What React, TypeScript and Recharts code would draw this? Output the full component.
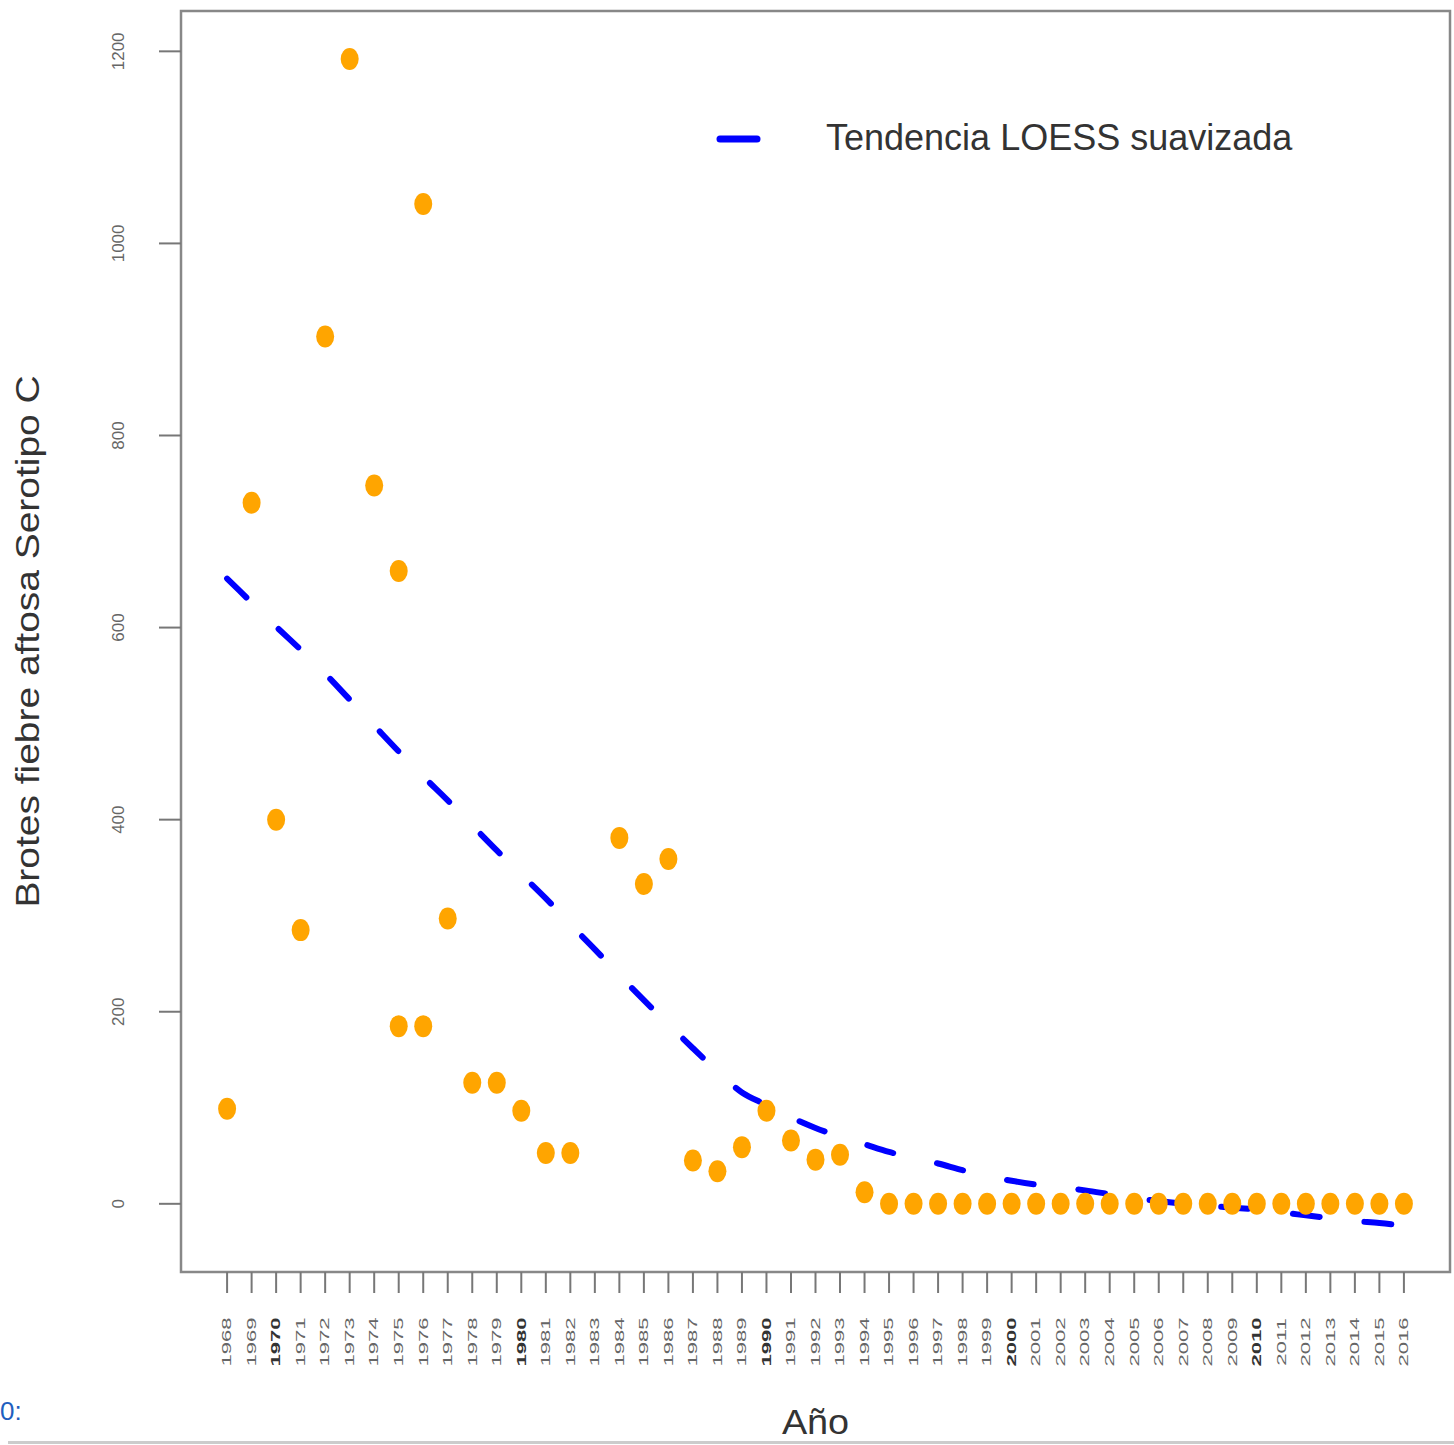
import React from 'react';
import {
  ComposedChart,
  Line,
  Scatter,
  XAxis,
  YAxis,
  ReferenceArea,
} from 'recharts';

// yearly outbreaks, serotype C
const years = [
  1968, 1969, 1970, 1971, 1972, 1973, 1974, 1975, 1976, 1977, 1978, 1979, 1980,
  1981, 1982, 1983, 1984, 1985, 1986, 1987, 1988, 1989, 1990, 1991, 1992, 1993,
  1994, 1995, 1996, 1997, 1998, 1999, 2000, 2001, 2002, 2003, 2004, 2005, 2006,
  2007, 2008, 2009, 2010, 2011, 2012, 2013, 2014, 2015, 2016,
];

const pointYears = [
  1968, 1969, 1970, 1971, 1972, 1973, 1974, 1975, 1975, 1976, 1976, 1977, 1978,
  1979, 1980, 1981, 1982, 1984, 1985, 1986, 1987, 1988, 1989, 1990, 1991, 1992,
  1993, 1994, 1995, 1996, 1997, 1998, 1999, 2000, 2001, 2002, 2003, 2004, 2005,
  2006, 2007, 2008, 2009, 2010, 2011, 2012, 2013, 2014, 2015, 2016,
];
const brotes = [
  99, 730, 400, 285, 903, 1192, 748, 659, 185, 1041, 185, 297, 126,
  126, 97, 53, 53, 381, 333, 359, 45, 34, 59, 97, 66, 46,
  51, 12, 0, 0, 0, 0, 0, 0, 0, 0, 0, 0, 0,
  0, 0, 0, 0, 0, 0, 0, 0, 0, 0, 0,
];

// smoothed LOESS trend
const loess = [
  651, 626, 601, 577, 552, 525, 498, 471, 445, 420, 394, 368, 343,
  318, 291, 265, 238, 212, 187, 162, 138, 116, 103, 90, 79, 70,
  62, 54, 48, 42, 35, 29, 24, 20, 17, 14, 10, 6, 3,
  0, -2, -4, -6, -9, -12, -15, -18, -20, -23,
];

const yTicks = [0, 200, 400, 600, 800, 1000, 1200];
const xDomain = [1966.12, 2017.88];
const yDomain = [-71, 1242];

const trendData = years.map((year, i) => ({ year, loess: loess[i] }));
const pointData = pointYears.map((year, i) => ({ year, brotes: brotes[i] }));

const FONT = '"Liberation Sans", Arial, sans-serif';

const XTick = (props: any) => {
  const { x, y, payload } = props;
  const strong = payload.value % 10 === 0;
  return (
    <text
      transform={`translate(${x},${y + 47}) rotate(-90) scale(1.7,1)`}
      textAnchor="middle"
      dominantBaseline="central"
      fontSize={13}
      fontFamily={FONT}
      fontWeight={strong ? 'bold' : 'normal'}
      fill={strong ? '#333' : '#666'}
    >
      {payload.value}
    </text>
  );
};

const YTick = (props: any) => {
  const { x, y, payload } = props;
  return (
    <text
      transform={`translate(${x - 39},${y}) rotate(-90)`}
      textAnchor="middle"
      dominantBaseline="central"
      fontSize={17}
      fontFamily={FONT}
      fill="#666"
    >
      {payload.value}
    </text>
  );
};

const Dot = (props: any) => (
  <ellipse cx={props.cx} cy={props.cy} rx={9} ry={11} fill="#FFA500" />
);

const LegendBox = () => (
  <div style={{ position: 'absolute', left: 700, top: 110, width: 640, height: 60, fontFamily: FONT }}>
    <svg width={60} height={20} style={{ position: 'absolute', left: 12, top: 19 }}>
      <line x1={8} y1={10} x2={45} y2={10} stroke="#0000FF" strokeWidth={7} strokeLinecap="round" />
    </svg>
    <span
      style={{
        position: 'absolute',
        left: 126,
        top: 8,
        fontSize: 36,
        lineHeight: '40px',
        color: '#333',
        whiteSpace: 'nowrap',
      }}
    >
      Tendencia LOESS suavizada
    </span>
  </div>
);

export default function App() {
  return (
    <div style={{ position: 'absolute', left: 0, top: 0, width: 1454, height: 1445, background: '#fff', overflow: 'hidden' }}>
      <ComposedChart
        width={1454}
        height={1445}
        data={trendData}
        margin={{ top: 11, right: 4, bottom: 0, left: 0 }}
      >
        <XAxis
          dataKey="year"
          type="number"
          domain={xDomain}
          ticks={years}
          interval={0}
          height={173}
          tickSize={21}
          axisLine={false}
          tickLine={{ stroke: '#777', strokeWidth: 2 }}
          tick={<XTick />}
          label={{
            content: (p: any) => {
              const vb = p.viewBox;
              return (
                <text
                  transform={`translate(${vb.x + vb.width / 2},${vb.y + 162}) scale(1.08,1)`}
                  textAnchor="middle"
                  fontSize={35}
                  fontFamily={FONT}
                  fill="#333"
                >
                  Año
                </text>
              );
            },
          }}
        />
        <YAxis
          type="number"
          domain={yDomain}
          ticks={yTicks}
          width={181}
          tickSize={22}
          axisLine={false}
          tickLine={{ stroke: '#777', strokeWidth: 2 }}
          tick={<YTick />}
          label={{
            content: (p: any) => {
              const vb = p.viewBox;
              return (
                <text
                  transform={`translate(${vb.x + 28},${vb.y + vb.height / 2}) rotate(-90) scale(1.18,1)`}
                  textAnchor="middle"
                  dominantBaseline="central"
                  fontSize={33}
                  fontFamily={FONT}
                  fill="#333"
                >
                  Brotes fiebre aftosa Serotipo C
                </text>
              );
            },
          }}
        />
        <ReferenceArea
          x1={xDomain[0]}
          x2={xDomain[1]}
          y1={yDomain[0]}
          y2={yDomain[1]}
          fill="#fff"
          fillOpacity={0}
          stroke="#888"
          strokeWidth={2.5}
          ifOverflow="visible"
        />
        <Line
          dataKey="loess"
          type="monotone"
          stroke="#0000FF"
          strokeWidth={6}
          strokeDasharray="27 45"
          strokeLinecap="round"
          dot={false}
          activeDot={false}
          isAnimationActive={false}
        />
        <Scatter
          data={pointData}
          dataKey="brotes"
          shape={<Dot />}
          isAnimationActive={false}
        />
      </ComposedChart>
      <LegendBox />
      <div style={{ position: 'absolute', left: 8, right: 0, top: 1441, height: 3, background: '#ccc' }} />
      <div
        style={{
          position: 'absolute',
          left: 0,
          top: 1396,
          fontSize: 26,
          fontFamily: FONT,
          color: '#1f5fbf',
        }}
      >
        0:
      </div>
    </div>
  );
}
